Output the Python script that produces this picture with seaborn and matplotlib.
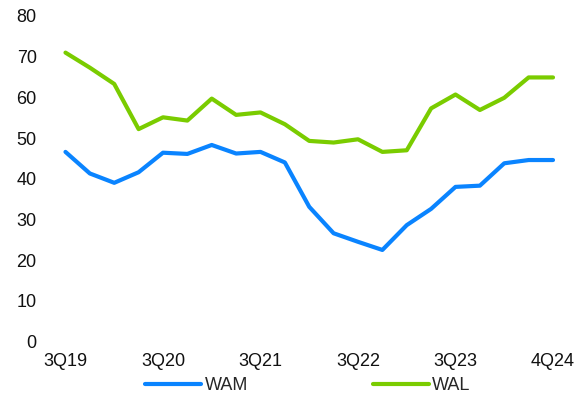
import matplotlib
matplotlib.use("Agg")
import matplotlib.pyplot as plt
from matplotlib.lines import Line2D
import numpy as np
import pandas as pd
import seaborn as sns

quarters = ["3Q19", "4Q19", "1Q20", "2Q20", "3Q20", "4Q20", "1Q21", "2Q21",
            "3Q21", "4Q21", "1Q22", "2Q22", "3Q22", "4Q22", "1Q23", "2Q23",
            "3Q23", "4Q23", "1Q24", "2Q24", "4Q24"]
wam = [46.6, 41.3, 39.0, 41.6, 46.4, 46.1, 48.3, 46.2, 46.6, 44.0, 33.1,
       26.6, 24.5, 22.5, 28.6, 32.6, 38.0, 38.3, 43.8, 44.6, 44.6]
wal = [71.0, 67.3, 63.3, 52.2, 55.1, 54.3, 59.7, 55.7, 56.3, 53.4, 49.3,
       48.9, 49.7, 46.6, 47.0, 57.3, 60.7, 56.9, 59.9, 64.9, 64.9]
tick_labels = ["3Q19", "3Q20", "3Q21", "3Q22", "3Q23", "4Q24"]

sns.set_theme(style="white")
plt.rcParams["font.family"] = ["Liberation Sans", "DejaVu Sans"]

df = pd.DataFrame({
    "idx": list(range(len(quarters))) * 2,
    "value": wam + wal,
    "series": ["WAM"] * len(wam) + ["WAL"] * len(wal),
})

colors = {"WAM": "#0a84ff", "WAL": "#7acc00"}
FS = 13

W, H = 583, 394
fig = plt.figure(figsize=(W / 100, H / 100), dpi=100)
ax = fig.add_axes([45 / W, (H - 341.5) / H, (573 - 45) / W, (341.5 - 16) / H])

sns.lineplot(data=df, x="idx", y="value", hue="series", palette=colors,
             linewidth=3, ax=ax, legend=False)

ax.set_xlim(-0.84, 20.82)
ax.set_ylim(0, 80)
ax.set_yticks(np.arange(0, 81, 10))
ax.set_xticks([quarters.index(q) for q in tick_labels])
ax.set_xticklabels(tick_labels)
ax.set_xlabel("")
ax.set_ylabel("")
for s in ax.spines.values():
    s.set_visible(False)
ax.tick_params(axis="y", length=0, pad=6, labelsize=FS, colors="#111111")
ax.tick_params(axis="x", length=0, pad=8, labelsize=FS, colors="#111111")

handles = [Line2D([], [], color=colors["WAM"], lw=3),
           Line2D([], [], color=colors["WAL"], lw=3)]
fig.legend(handles, ["WAM", "WAL"], loc="center", ncol=2,
           bbox_to_anchor=(308 / W, 1 - 386 / H), frameon=False,
           fontsize=FS, handlelength=3.1, handletextpad=0.2,
           columnspacing=6.9, borderpad=0, borderaxespad=0)

fig.savefig("out.png", dpi=100)
